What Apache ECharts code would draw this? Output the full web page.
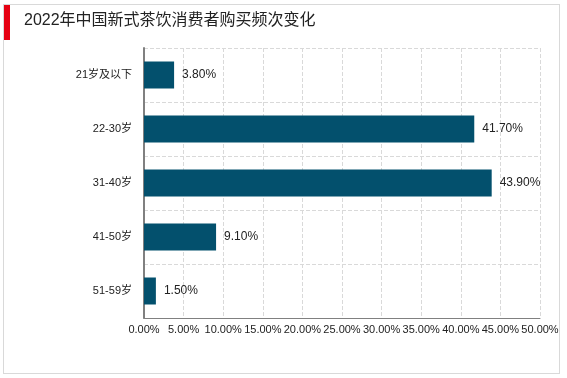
<!DOCTYPE html>
<html>
<head>
<meta charset="utf-8">
<script src="https://cdn.jsdelivr.net/npm/echarts@6/dist/echarts.min.js"></script>
<style>
  html, body { margin: 0; padding: 0; background: #fff; }
  #wrap { position: absolute; left: 3px; top: 4px; width: 557px; height: 370px; border: 1px solid #d9d9d9; box-sizing: border-box; }
  #chart { width: 567px; height: 378px; position: absolute; left: 0; top: 0; }
</style>
</head>
<body>
<div id="wrap"></div>
<div id="chart"></div>
<script>
// 年龄段（从上到下）
const categories = ['21岁及以下', '22-30岁', '31-40岁', '41-50岁', '51-59岁']
const values = [3.8, 41.7, 43.9, 9.1, 1.5]
const titleText = '2022年中国新式茶饮消费者购买频次变化'

const chart = echarts.init(document.getElementById('chart'))

const font = '"Liberation Sans", Arial, "Noto Sans CJK SC", sans-serif'

const option = {
  animation: false,
  textStyle: { fontFamily: font },
  graphic: [
    {
      type: 'rect',
      shape: { x: 4, y: 5, width: 6, height: 35 },
      style: { fill: '#e60012' }
    },
    {
      type: 'text',
      left: 24,
      top: 13,
      style: { text: titleText, fontSize: 16, fill: '#222', fontFamily: font }
    }
  ],
  grid: {
    left: 144,
    right: 27,
    top: 48,
    bottom: 60,
    containLabel: false
  },
  xAxis: {
    type: 'value',
    min: 0,
    max: 50,
    interval: 5,
    axisLine: { show: true, lineStyle: { color: '#808080' } },
    axisTick: { show: false },
    axisLabel: {
      color: '#222',
      fontSize: 11,
      margin: 6,
      formatter: v => v.toFixed(2) + '%'
    },
    splitLine: { show: true, lineStyle: { color: '#d9d9d9', type: 'dashed' } }
  },
  yAxis: {
    type: 'category',
    inverse: true,
    data: categories,
    axisLine: { show: true, lineStyle: { color: '#808080', width: 2 } },
    axisTick: { show: false },
    axisLabel: { color: '#222', fontSize: 11, margin: 12 },
    splitLine: { show: true, lineStyle: { color: '#d9d9d9', type: 'dashed' } }
  },
  series: [
    {
      type: 'bar',
      data: values,
      barWidth: '50%',
      itemStyle: { color: '#03506d' },
      label: {
        show: true,
        position: 'right',
        distance: 8,
        color: '#222',
        fontSize: 12,
        formatter: p => p.value.toFixed(2) + '%'
      }
    }
  ]
}

chart.setOption(option)
</script>
</body>
</html>
